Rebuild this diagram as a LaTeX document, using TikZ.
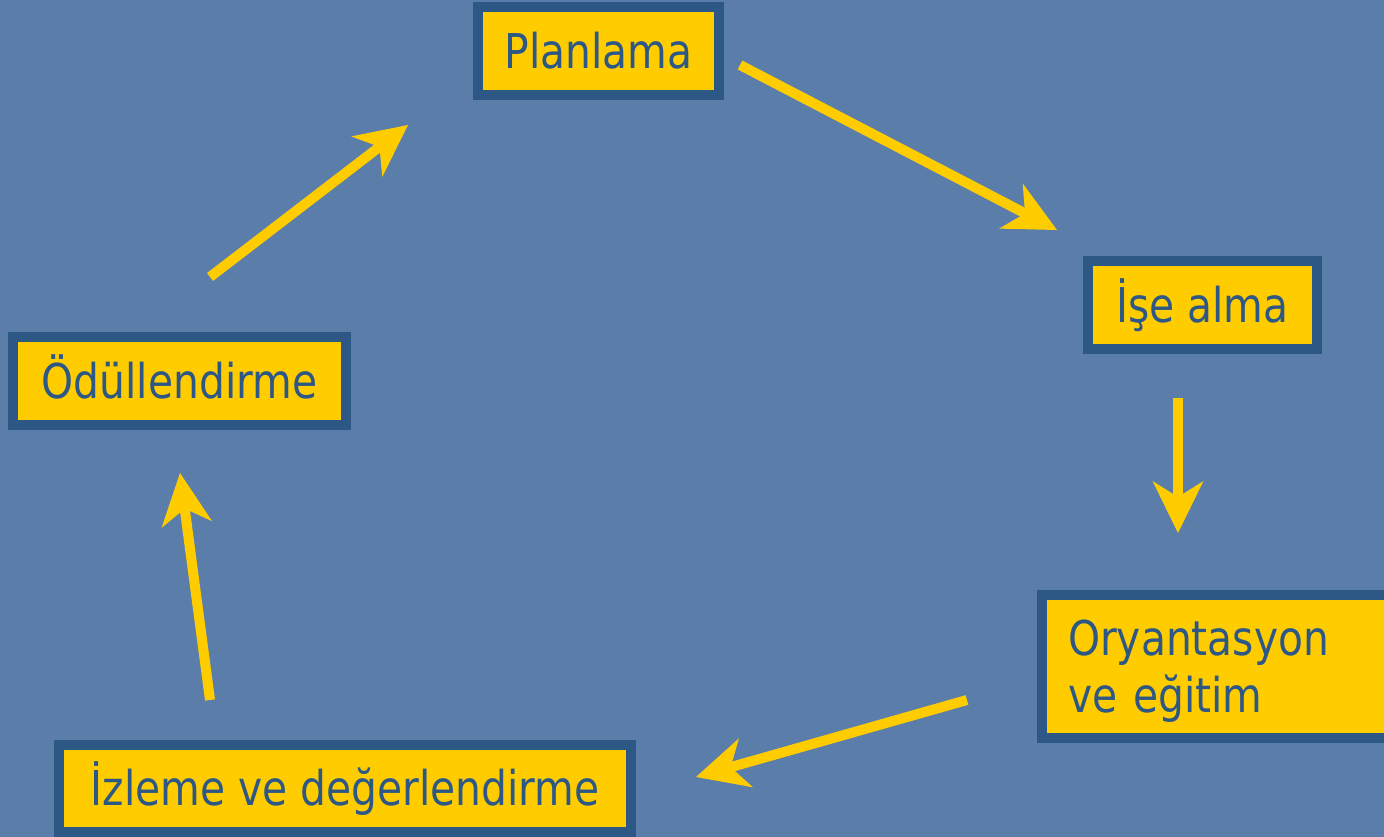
\documentclass[tikz,border=0pt]{standalone}
\usepackage{fontspec}
\setmainfont{DejaVu Sans}[FakeStretch=0.85]
\usetikzlibrary{arrows.meta}

\definecolor{bgblue}{HTML}{5A7DAA}
\definecolor{boxblue}{HTML}{2D5886}
\definecolor{cycyellow}{HTML}{FFCC00}

\tikzset{
	stage/.style={rectangle, draw=boxblue, fill=cycyellow, line width=0.2cm,
		text=boxblue, inner sep=0pt, minimum height=1.76cm,
		text height=0.7cm, text depth=0pt,
		font=\fontsize{27.3}{31.9}\selectfont},
	flow/.style={draw=cycyellow, line width=0.2cm,
		-{Stealth[length=1.04cm, width=1.02cm, inset=0.32cm, line width=0pt]}}
}

\begin{document}
\begin{tikzpicture}[x=0.02cm, y=-0.02cm]

			\fill[bgblue] (0,0) rectangle (1384,837);
			\clip (0,0) rectangle (1384,837);

			\node[stage, minimum width=4.82cm] (plan) at (598.5,51) {Planlama};
			\node[stage, minimum width=4.58cm] (ise) at (1202.5,305) {İşe alma};
			\node[stage, minimum width=7.06cm, minimum height=2.86cm,
				text width=6.02cm, align=left, text depth=1.12cm] (orya) at (1218.5,666.5)
				{Oryantasyon\\ve eğitim};
			\node[stage, minimum width=11.44cm] (izle) at (345,788.5) {İzleme ve değerlendirme};
			\node[stage, minimum width=6.66cm] (odul) at (179.5,381) {Ödüllendirme};

			% arrow ends
			\coordinate (a1s) at (740,65);   \coordinate (a1e) at (1057,230);
			\coordinate (a2s) at (1178,398); \coordinate (a2e) at (1178,533);
			\coordinate (a3s) at (967,700);  \coordinate (a3e) at (696,777);
			\coordinate (a4s) at (210,700);  \coordinate (a4e) at (180,473);
			\coordinate (a5s) at (210,277);  \coordinate (a5e) at (408,125);

			\draw[flow] (a1s) -- (a1e);
			\draw[flow] (a2s) -- (a2e);
			\draw[flow] (a3s) -- (a3e);
			\draw[flow] (a4s) -- (a4e);
			\draw[flow] (a5s) -- (a5e);

\end{tikzpicture}
\end{document}
